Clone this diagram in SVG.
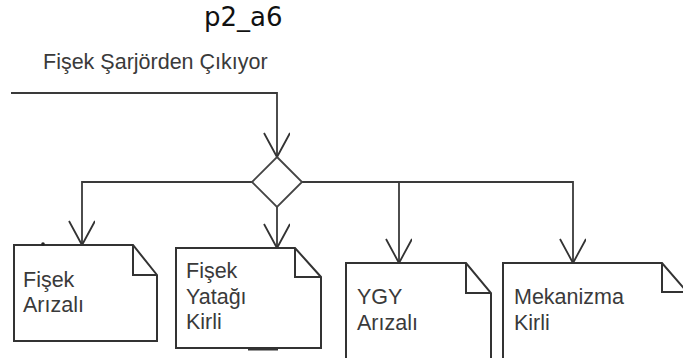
<svg xmlns="http://www.w3.org/2000/svg" width="683" height="358" viewBox="0 0 683 358">
<style>
.t{font-family:"Liberation Sans",Arial,sans-serif;font-size:21.5px;fill:#3a3a3a}
.title{font-family:"DejaVu Sans",sans-serif;font-size:26px;fill:#111}
.c{fill:none;stroke:#3a3a3a;stroke-width:1.8}
.b{fill:#fff;stroke:#333;stroke-width:2}
.f{fill:none;stroke:#333;stroke-width:2}
</style>
<defs>
<marker id="v" markerUnits="userSpaceOnUse" markerWidth="30" markerHeight="30" refX="26" refY="13" orient="auto">
<path d="M2,0 L26,13 L2,26" fill="none" stroke="#333" stroke-width="1.8"/>
</marker>
</defs>
<rect width="683" height="358" fill="#fff"/>
<text class="title" x="204" y="26">p2_a6</text>
<text class="t" x="43" y="69">Fişek Şarjörden Çıkıyor</text>
<g id="connectors">
<path class="c" d="M11,93 H277 V157" marker-end="url(#v)"/>
<path class="c" d="M252,182 H82 V245" marker-end="url(#v)"/>
<path class="c" d="M277,207 V248" marker-end="url(#v)"/>
<path class="c" d="M302,182 H399" stroke-width="2.6"/>
<path class="c" d="M399,182 H573 V263" marker-end="url(#v)"/>
<path class="c" d="M399,182 V263" marker-end="url(#v)"/>
</g>
<g id="decision">
<path d="M277,157 L302,182 L277,207 L252,182 Z" fill="#fff" stroke="#444" stroke-width="1.8"/>
</g>
<g id="n1">
<path class="b" d="M14,245 H133 L157,275 V341 H14 Z"/>
<path class="f" d="M133,245 V275 H157"/>
<circle cx="43" cy="244" r="1.8" fill="#222"/>
<text class="t" x="23" y="287">Fişek</text>
<text class="t" x="23" y="312">Arızalı</text>
</g>
<g id="n2">
<path class="b" d="M176,248 H295 L321,277 V348 H176 Z"/>
<path class="f" d="M295,248 V277 H321"/>
<line x1="248" y1="349" x2="278" y2="349" stroke="#333" stroke-width="3"/>
<text class="t" x="186" y="278">Fişek</text>
<text class="t" x="186" y="304">Yatağı</text>
<text class="t" x="186" y="329">Kirli</text>
</g>
<g id="n3">
<path class="b" d="M346,263 H466 L491,293 V362 H346 Z"/>
<path class="f" d="M466,263 V293 H491"/>
<text class="t" x="357" y="304">YGY</text>
<text class="t" x="357" y="330">Arızalı</text>
</g>
<g id="n4">
<path class="b" d="M503,263 H662 L688,293 V362 H503 Z"/>
<path class="f" d="M662,263 V292 H688"/>
<text class="t" x="514" y="304">Mekanizma</text>
<text class="t" x="514" y="330">Kirli</text>
</g>
</svg>
